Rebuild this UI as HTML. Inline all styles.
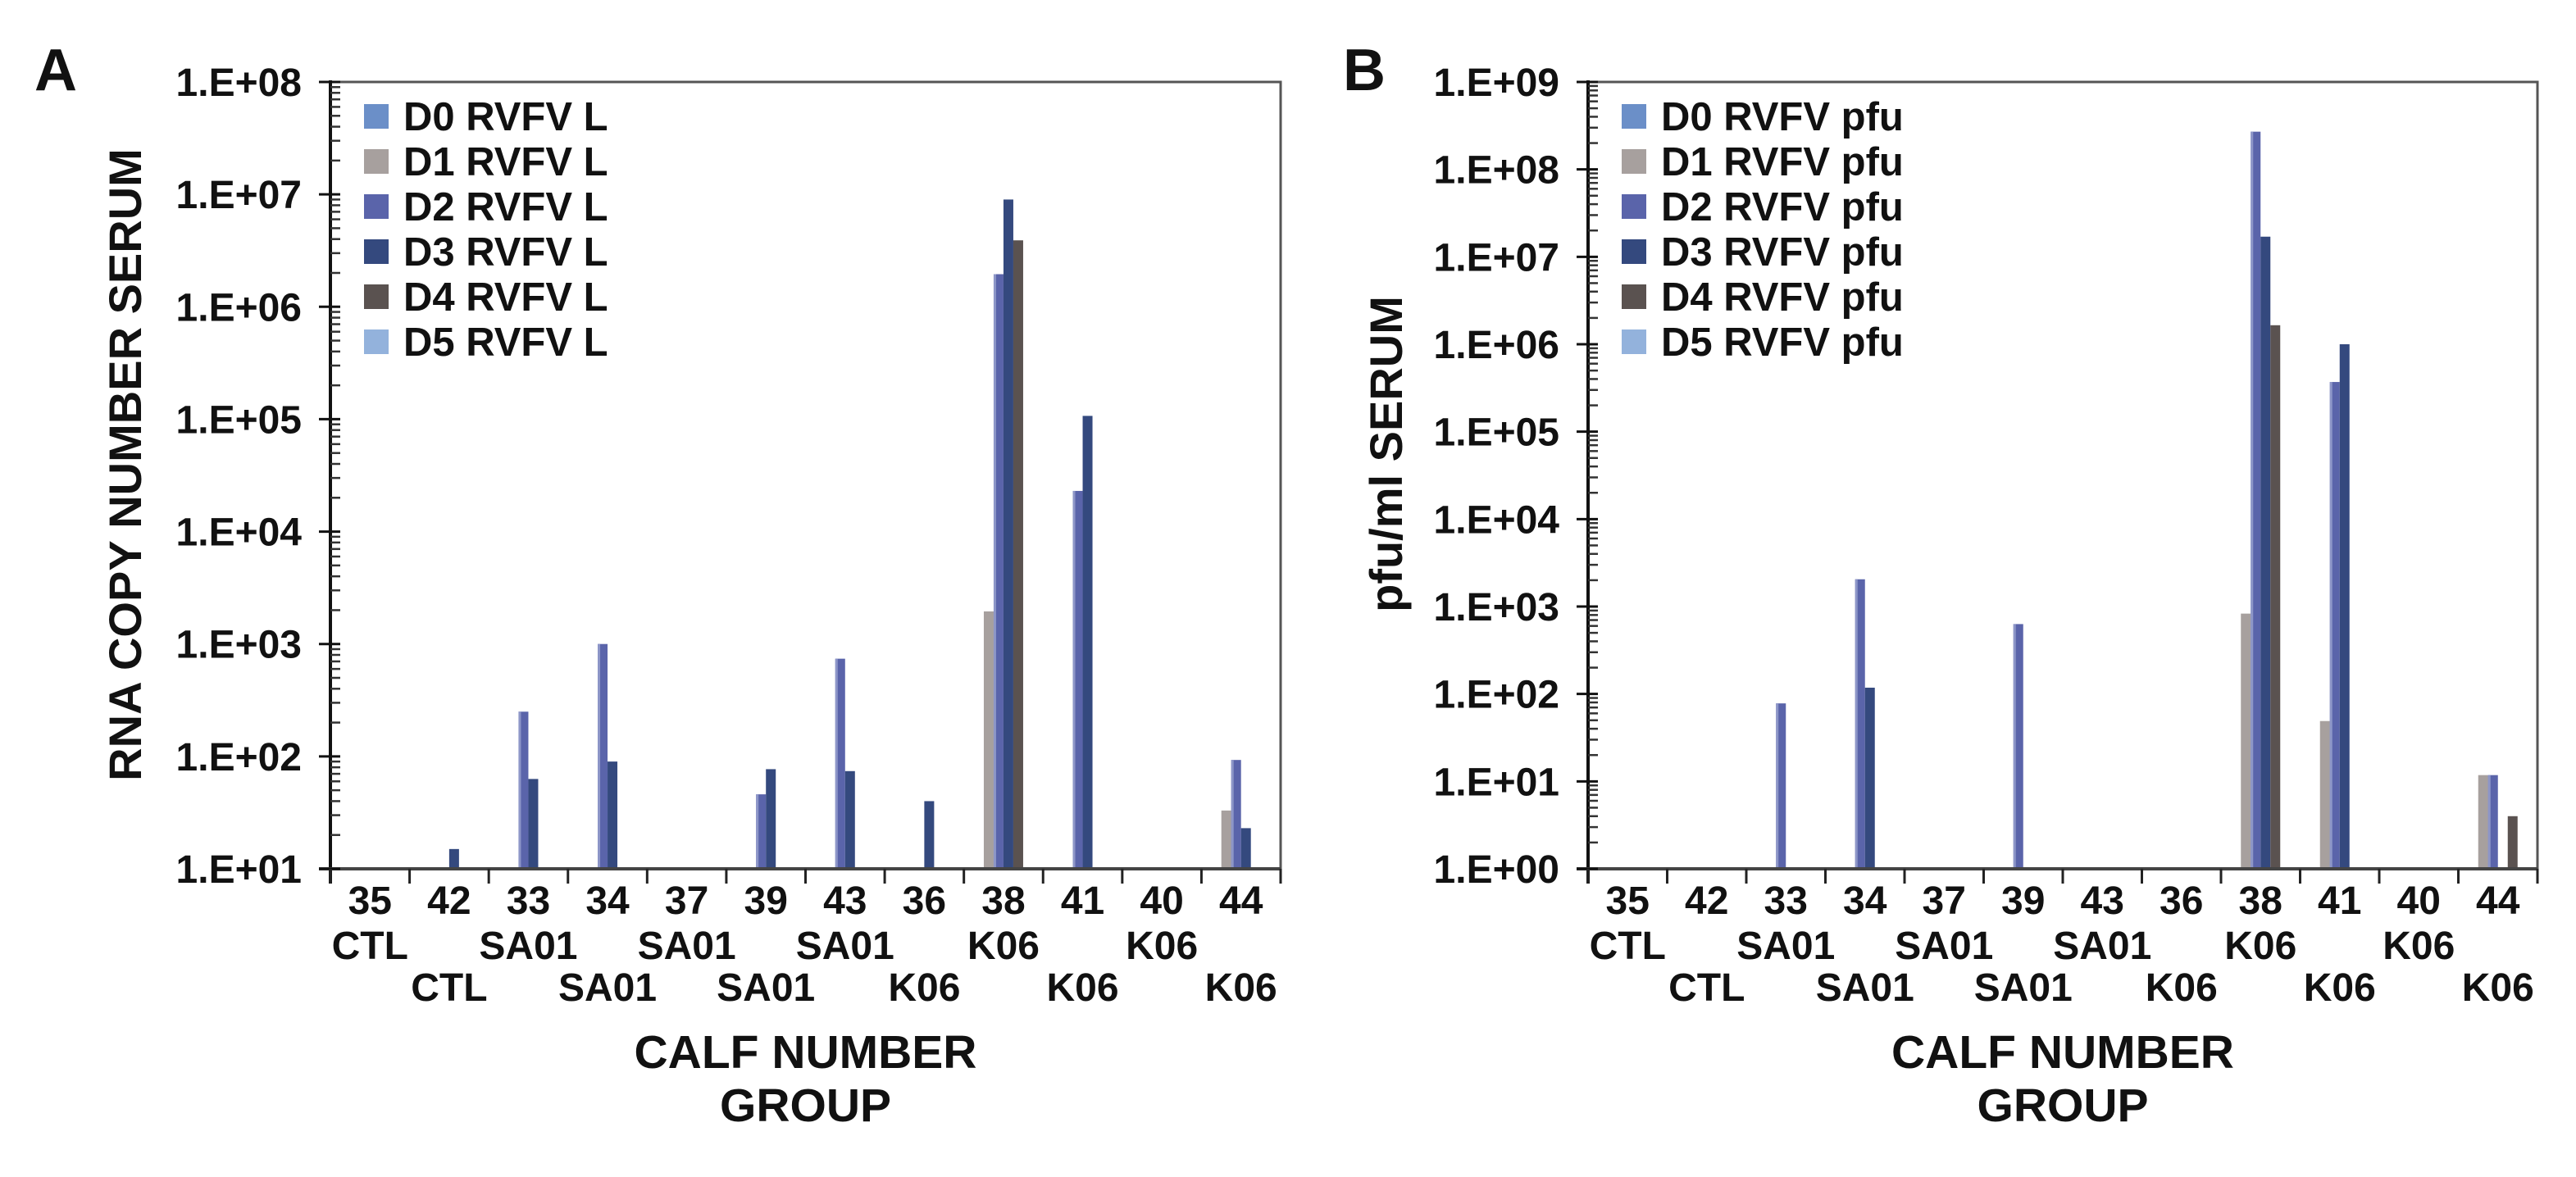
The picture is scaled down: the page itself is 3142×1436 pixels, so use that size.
<!DOCTYPE html>
<html><head><meta charset="utf-8">
<style>
html,body{margin:0;padding:0;background:#fff;}
svg{display:block;font-family:"Liberation Sans",Arial,sans-serif;font-weight:bold;}
</style></head>
<body>
<svg id="chart" width="3142" height="1436" viewBox="0 0 3142 1436" xmlns="http://www.w3.org/2000/svg">
<rect width="3142" height="1436" fill="#fff"/>
</svg>
<script>
// ---- data ----
const calves = ["35","42","33","34","37","39","43","36","38","41","40","44"];
const groups = ["CTL","CTL","SA01","SA01","SA01","SA01","SA01","K06","K06","K06","K06","K06"];
const seriesNames = ["D0","D1","D2","D3","D4","D5"];
const colors = ["#6b8fc8","#a7a09e","#5a64aa","#34497e","#5a5250","#93b2dc"];
// Panel A: RNA copy number (null = none)
const aD0 = [null,null,null,null,null,null,null,null,null,null,null,null];
const aD1 = [null,null,null,null,null,null,null,null,1950,null,null,33];
const aD2 = [null,null,250,1000,null,46,740,null,1950000,23000,null,93];
const aD3 = [null,15,63,90,null,77,74,40,9000000,107000,null,23];
const aD4 = [null,null,null,null,null,null,null,null,3900000,null,null,null];
const aD5 = [null,null,null,null,null,null,null,null,null,null,null,null];
// Panel B: pfu/ml
const bD0 = [null,null,null,null,null,null,null,null,null,null,null,null];
const bD1 = [null,null,null,null,null,null,null,null,830,49,null,11.8];
const bD2 = [null,null,78,2050,null,630,null,null,270000000,370000,null,11.8];
const bD3 = [null,null,null,118,null,null,null,null,17000000,1000000,null,null];
const bD4 = [null,null,null,null,null,null,null,null,1650000,null,null,4];
const bD5 = [null,null,null,null,null,null,null,null,null,null,null,null];
const aTicks = ["1.E+01","1.E+02","1.E+03","1.E+04","1.E+05","1.E+06","1.E+07","1.E+08"];
const bTicks = ["1.E+00","1.E+01","1.E+02","1.E+03","1.E+04","1.E+05","1.E+06","1.E+07","1.E+08","1.E+09"];

const svg = document.getElementById('chart');
const NS = "http://www.w3.org/2000/svg";
function mk(tag, attrs, parent){
  const e = document.createElementNS(NS, tag);
  for (const k in attrs) e.setAttribute(k, attrs[k]);
  (parent||svg).appendChild(e);
  return e;
}

function panel(opt){
  const g = mk('g', {});
  
  
  const L=opt.left, R=opt.right, T=100, B=1060;
  const minE=opt.minE, maxE=opt.maxE;
  const yScale = v => B - (Math.log10(v)-minE)/(maxE-minE)*(B-T);
  const gw = (R-L)/calves.length;
  const xBand = i => L + i*gw;
  const bw = 12;
  // frame
  const frame = mk('rect',{x:L,y:T,width:R-L,height:B-T,fill:'none',stroke:'#555',"stroke-width":3},g);
  
  
  // bars
  opt.series.forEach((arr, s) => {
    arr.forEach((v, i) => {
      if (v == null) return;
      const x = xBand(i) + (gw - 6*bw)/2 + s*bw;
      const y = yScale(v);
      const r = mk('rect',{x:x,y:y,width:bw,height:B-y,fill:colors[s]},g);
      
      
      if (s===2) mk('rect',{x:x,y:y,width:3,height:B-y,fill:'#8d96c8'},g);
    });
  });
  // axes
  mk('line',{x1:L,y1:T-2,x2:L,y2:B+18,stroke:'#111',"stroke-width":4},g);
  mk('line',{x1:L-14,y1:B,x2:R,y2:B,stroke:'#444',"stroke-width":4},g);
  // y ticks
  for (let e=minE; e<=maxE; e++){
    const y = yScale(Math.pow(10,e));
    mk('line',{x1:L-14,y1:y,x2:L+12,y2:y,stroke:'#111',"stroke-width":3},g);
    const t = mk('text',{x:L-35,y:y+17,"text-anchor":"end","font-size":48,fill:'#111'},g);
    t.textContent = opt.ticks[e-minE];
    
    
    if (e<maxE) for (let m=2;m<=9;m++){
      const ym = yScale(m*Math.pow(10,e));
      mk('line',{x1:L,y1:ym,x2:L+12,y2:ym,stroke:'#333',"stroke-width":2.5},g);
    }
  }
  // x ticks & labels
  for (let i=0;i<=calves.length;i++){
    mk('line',{x1:xBand(i),y1:B,x2:xBand(i),y2:B+18,stroke:'#222',"stroke-width":3},g);
  }
  calves.forEach((c,i)=>{
    const cx = xBand(i)+gw/2;
    const t = mk('text',{x:cx,y:1115,"text-anchor":"middle","font-size":48,fill:'#111'},g);
    t.textContent = c;
    
    
    const t2 = mk('text',{x:cx,y:(i%2===0)?1170:1221,"text-anchor":"middle","font-size":48,fill:'#111'},g);
    t2.textContent = groups[i];
    
    
  });
  // titles
  const xt = mk('text',{x:(L+R)/2,y:1303,"text-anchor":"middle","font-size":57,fill:'#111'},g);
  xt.textContent = 'CALF NUMBER';
  
  
  const xt2 = mk('text',{x:(L+R)/2,y:1368,"text-anchor":"middle","font-size":57,fill:'#111'},g);
  xt2.textContent = 'GROUP';
  
  
  const yt = mk('text',{x:0,y:0,"text-anchor":"middle","font-size":56,fill:'#111',transform:`translate(${opt.ytx},${opt.yty}) rotate(-90)`},g);
  yt.textContent = opt.ytitle;
  
  
  const pl = mk('text',{x:opt.letterX,y:110,"font-size":72,fill:'#111'},g);
  pl.textContent = opt.letter;
  
  
  // legend
  seriesNames.forEach((n,s)=>{
    const y = 127 + s*55;
    const sw = mk('rect',{x:L+41,y:y,width:30,height:30,fill:colors[s]},g);
    
    
    const t = mk('text',{x:L+89,y:y+32,"font-size":49,fill:'#111'},g);
    t.textContent = n + ' ' + opt.legendSuffix;
    
    
  });
}

panel({name:'panel-a',left:403,right:1562,minE:1,maxE:8,ticks:aTicks,
  series:[aD0,aD1,aD2,aD3,aD4,aD5],ytitle:'RNA COPY NUMBER SERUM',ytx:172,yty:567,
  letter:'A',letterX:42,legendSuffix:'RVFV L'});
panel({name:'panel-b',left:1937,right:3095,minE:0,maxE:9,ticks:bTicks,
  series:[bD0,bD1,bD2,bD3,bD4,bD5],ytitle:'pfu/ml SERUM',ytx:1710,yty:554,
  letter:'B',letterX:1638,legendSuffix:'RVFV pfu'});
</script>
</body></html>
